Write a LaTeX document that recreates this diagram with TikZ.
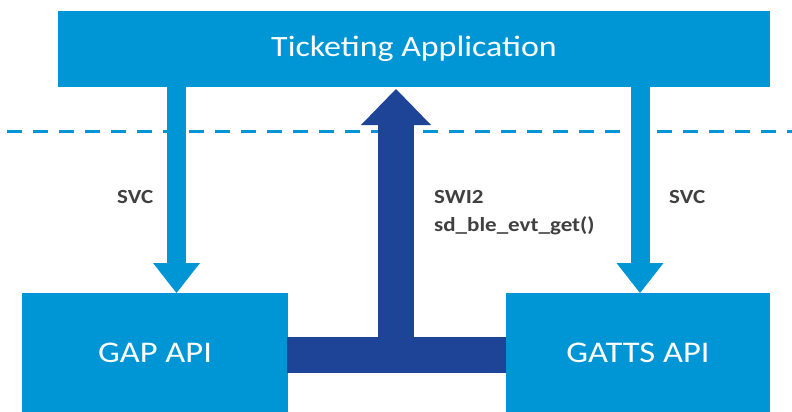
\documentclass[tikz,border=0pt]{standalone}
\usepackage{fontspec}
\setmainfont{Carlito}
\newfontfamily\wfont[FakeStretch=1.15]{Carlito}
\usetikzlibrary{arrows.meta}
\definecolor{lblue}{RGB}{0,150,214}
\definecolor{dblue}{RGB}{29,68,150}
\definecolor{lgray}{RGB}{64,64,64}
\begin{document}
\begin{tikzpicture}[x=1pt,y=-1pt,
  blk/.style={fill=lblue, draw=none, inner sep=0pt, text=white},
  lab/.style={text=lgray, font=\wfont\bfseries\fontsize{20}{24}\selectfont, inner sep=0pt, anchor=base west},
  down/.style={lblue, line width=19pt, -{Triangle[width=47pt,length=30pt,line width=0pt]}},
  upar/.style={dblue, line width=36pt, -{Triangle[width=70pt,length=36pt,line width=0pt]}},
  sep/.style={lblue, line width=3pt, dash pattern=on 15pt off 11pt}]
\useasboundingbox (0,0) rectangle (792,412);
\fill[white] (0,0) rectangle (792,412);
% separator
\coordinate (d1) at (7,131.5);
\coordinate (d2) at (792,131.5);
\draw[sep] (d1) -- (d2);
% blocks
\node[blk, minimum width=712pt, minimum height=76pt, font=\wfont\fontsize{29.5}{34}\selectfont] (app) at (414,49) {Ticketing Application};
\node[blk, minimum width=266pt, minimum height=119pt, font=\wfont\fontsize{30}{36}\selectfont] (gap) at (155,352.5) {GAP API};
\node[blk, minimum width=264pt, minimum height=119pt, font=\wfont\fontsize{30}{36}\selectfont] (gatts) at (638,352.5) {GATTS API};
% SVC arrows
\coordinate (l1) at (176.5,87);
\coordinate (l2) at (176.5,293);
\coordinate (r1) at (640,87);
\coordinate (r2) at (640,293);
\draw[down] (l1) -- (l2);
\draw[down] (r1) -- (r2);
% event bar and up arrow
\coordinate (b1) at (287,355);
\coordinate (b2) at (506,355);
\coordinate (u1) at (396,355);
\coordinate (u2) at (396,89);
\draw[dblue, line width=36pt] (b1) -- (b2);
\draw[upar] (u1) -- (u2);
% labels
\node[lab] (svc1) at (117,203) {SVC};
\node[lab] (swi) at (434,203) {SWI2};
\node[lab] (sdb) at (434,231) {sd\_ble\_evt\_get()};
\node[lab] (svc2) at (669,203) {SVC};
\end{tikzpicture}
\end{document}
